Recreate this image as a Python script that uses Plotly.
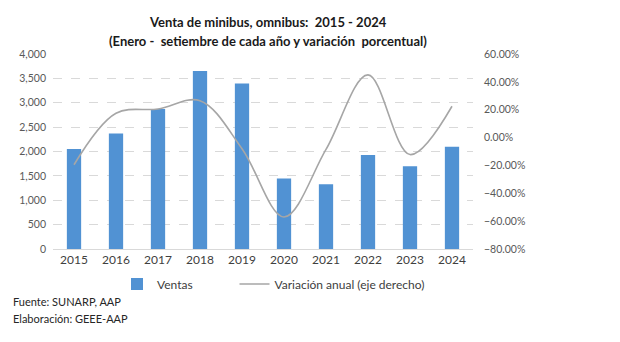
import plotly.graph_objects as go

years = ["2015", "2016", "2017", "2018", "2019", "2020", "2021", "2022", "2023", "2024"]
ventas = [2050, 2370, 2870, 3650, 3395, 1445, 1330, 1930, 1700, 2095]
variacion = [-0.195, 0.175, 0.205, 0.265, -0.080, -0.570, -0.085, 0.450, -0.122, 0.225]
series_names = ["Ventas" + "\u00a0" * 12, "Variación anual (eje derecho)"]

FONT = "Lato"
L, R, T, B = 53, 147, 54, 93
W, H = 620, 342
pw, ph = W - L - R, H - T - B

def px_x(x):
    return (x - L) / pw

def px_y(y):
    return (H - B - y) / ph

fig = go.Figure()
fig.add_trace(go.Bar(
    x=years, y=ventas, name=series_names[0],
    marker=dict(color="#5192d3", line=dict(width=0)),
    width=0.34,
))
fig.add_trace(go.Scatter(
    x=years, y=variacion, name=series_names[1],
    mode="lines", line=dict(color="#a6a6a6", width=1.6, shape="spline", smoothing=1.0),
    yaxis="y2",
))

fig.update_layout(
    width=W, height=H,
    margin=dict(l=L, r=R, t=T, b=B),
    paper_bgcolor="white", plot_bgcolor="white",
    font=dict(family=FONT, size=11, color="#404040"),
    showlegend=True,
    legend=dict(orientation="h", x=px_x(117), y=px_y(284), xanchor="left", yanchor="middle",
                font=dict(family=FONT, size=12, color="#404040"),
                itemwidth=30, tracegroupgap=0, bgcolor="rgba(0,0,0,0)"),
    bargap=0.6,
    xaxis=dict(showgrid=False, showline=True, linecolor="#d9d9d9", linewidth=1,
               ticks="", tickfont=dict(family=FONT, size=12, color="#404040")),
    yaxis=dict(range=[0, 4000], dtick=500, tickformat=",", showgrid=True,
               gridcolor="#d9d9d9", griddash="dash", gridwidth=1, zeroline=False,
               ticks="", tickfont=dict(family=FONT, size=10.5, color="#595959"),
               ticklabelstandoff=6),
    yaxis2=dict(range=[-0.8, 0.6], dtick=0.2, tickformat=".2%", overlaying="y",
                side="right", showgrid=False, zeroline=False, ticks="",
                tickfont=dict(family=FONT, size=10.5, color="#595959"),
                ticklabelstandoff=10),
)

ann = [
    dict(text="<b>Venta de minibus, omnibus:  2015 - 2024</b>", x=px_x(268), y=px_y(22),
         font=dict(family=FONT, size=13, color="#1a1a1a")),
    dict(text="<b>(Enero -  setiembre de cada año y variación  porcentual)</b>", x=px_x(268), y=px_y(41),
         font=dict(family=FONT, size=13, color="#1a1a1a")),
]
for a in ann:
    fig.add_annotation(xref="paper", yref="paper", xanchor="center", yanchor="middle",
                       showarrow=False, **a)

fig.add_annotation(text="Fuente: SUNARP, AAP", xref="paper", yref="paper", x=px_x(11), y=px_y(301),
                   xanchor="left", yanchor="middle", showarrow=False,
                   font=dict(family=FONT, size=11, color="#262626"))
fig.add_annotation(text="Elaboración: GEEE-AAP", xref="paper", yref="paper", x=px_x(11), y=px_y(318),
                   xanchor="left", yanchor="middle", showarrow=False,
                   font=dict(family=FONT, size=11, color="#262626"))

fig.write_html("out.html")
